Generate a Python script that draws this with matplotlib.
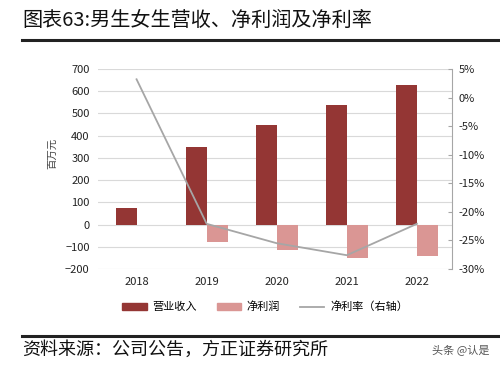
import matplotlib
matplotlib.use("Agg")
import matplotlib.pyplot as plt
import numpy as np
from matplotlib.lines import Line2D
from matplotlib.patches import Patch

plt.rcParams['font.family'] = ['Noto Sans CJK SC', 'DejaVu Sans']

years = ['2018', '2019', '2020', '2021', '2022']
revenue = [73, 347, 446, 536, 626]
net_profit = [-2, -81, -113, -149, -140]
net_margin = [3.2, -22.1, -25.5, -27.6, -22.1]

c_rev = '#943634'
c_np = '#DA9694'
c_line = '#A6A6A6'

fig = plt.figure(figsize=(5, 3.73), dpi=100)
ax = fig.add_axes([0.196, 0.279, 0.708, 0.536])
x = np.arange(len(years))
w = 0.3
ax.bar(x - w/2, revenue, w, color=c_rev, zorder=3)
ax.bar(x + w/2, net_profit, w, color=c_np, zorder=3)
ax.set_ylim(-200, 700)
ax.set_yticks(range(-200, 701, 100))
ax.set_xlim(-0.55, 4.5)
ax.set_xticks(x)
ax.set_xticklabels(years)
ax.grid(axis='y', color='#D9D9D9', linewidth=0.8, zorder=0)
for s in ax.spines.values():
    s.set_visible(False)
ax.tick_params(axis='both', length=0, labelsize=8, colors='#222222', pad=6)
ax.set_ylabel('百万元', fontsize=7.5, color='#444444', labelpad=4)
ax.yaxis.set_label_coords(-0.115, 0.58)

ax2 = ax.twinx()
ax2.plot(x, net_margin, color=c_line, linewidth=1.3, zorder=4)
ax2.set_ylim(-30, 5)
ax2.set_yticks(range(-30, 6, 5))
ax2.set_yticklabels([f'{v}%' for v in range(-30, 6, 5)])
for k, s in ax2.spines.items():
    s.set_visible(k == 'right')
ax2.spines['right'].set_color('#A6A6A6')
ax2.tick_params(axis='y', direction='in', length=3, color='#A6A6A6', labelsize=8, labelcolor='#222222', pad=5)

handles = [Patch(color=c_rev), Patch(color=c_np), Line2D([0], [0], color=c_line, lw=1.3)]
labels = ['营业收入', '净利润', '净利率（右轴）']
fig.legend(handles, labels, loc='center', bbox_to_anchor=(0.53, 0.177), ncol=3, frameon=False,
           fontsize=8, handlelength=2.2, handleheight=0.5, columnspacing=1.8, handletextpad=0.5)

fig.text(0.044, 0.945, '图表63:男生女生营收、净利润及净利率', fontsize=14.5, fontweight='medium',
         color='#111111', va='center', ha='left')
fig.add_artist(Line2D([0.044, 1.0], [0.893, 0.893], color='#222222', lw=2.2))
fig.add_artist(Line2D([0.044, 1.0], [0.098, 0.098], color='#222222', lw=2.2))
fig.text(0.044, 0.063, '资料来源：公司公告，方正证券研究所', fontsize=13, style='italic',
         color='#111111', va='center', ha='left')
fig.text(0.978, 0.063, '头条 @认是', fontsize=8, color='#555555', va='center', ha='right')

fig.savefig('out.png', dpi=100)
